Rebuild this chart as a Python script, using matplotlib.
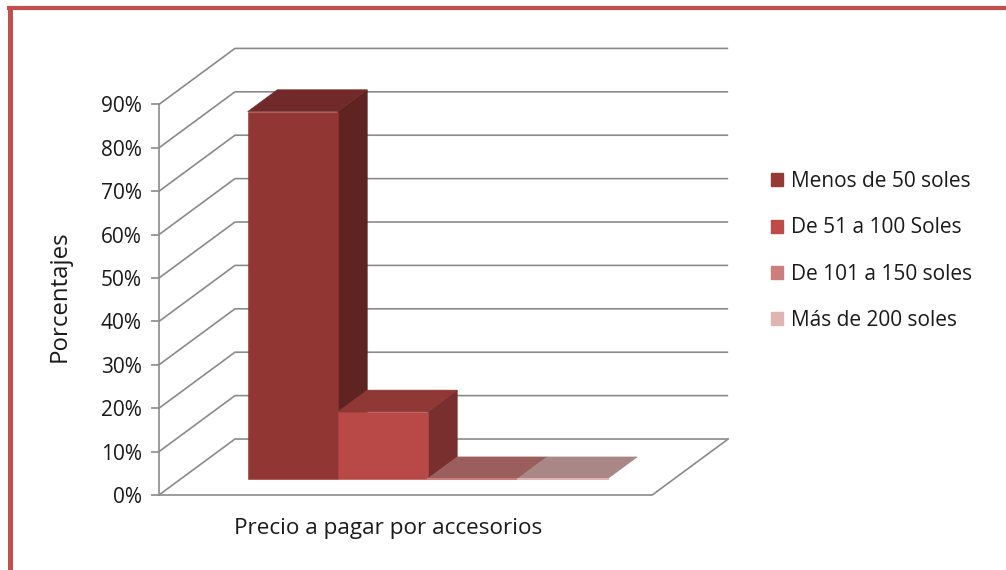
import matplotlib
matplotlib.use("Agg")
import matplotlib.pyplot as plt
from matplotlib.patches import Polygon, Patch
from matplotlib.lines import Line2D

# ---- data -------------------------------------------------------------
category = "Precio a pagar por accesorios"
series_names = ["Menos de 50 soles", "De 51 a 100 Soles",
                "De 101 a 150 soles", "Más de 200 soles"]
values = [84.6, 15.4, 0.0, 0.0]          # percent
y_ticks = [0, 10, 20, 30, 40, 50, 60, 70, 80, 90]
y_label = "Porcentajes"

# ---- style ------------------------------------------------------------
series_colors = ["#963836", "#BE4B48", "#CD7D7B", "#E1B4B4"]
FRONT_SHADE, TOP_SHADE, SIDE_SHADE = 0.97, 0.75, 0.63
GRID = "#8a8a8a"
FRAME = "#C0504D"
TEXT = "#1a1a1a"
FONT = "Open Sans"
TICK_FS, LEG_FS, CAT_FS, YLAB_FS = 15.0, 15.0, 16.2, 17.3

# oblique "3-D" geometry, in data units (x: bar widths, y: percent)
FLOOR_W = 5.48          # width of the floor
GAP = 0.74              # space before the first bar
BAR_W = 1.0
DEPTH_DX = 0.844        # x shift for full depth
DEPTH_DY = 12.9         # y shift for full depth
BAR_D0, BAR_D1 = 0.29, 0.68

plt.rcParams["font.family"] = [FONT, "DejaVu Sans"]

W_PX, H_PX = 1006, 570
fig = plt.figure(figsize=(W_PX / 100, H_PX / 100), dpi=100)
ax = fig.add_axes([0, 0, 1, 1])

# scale: 90 px per bar width, 4.34 px per percent; origin of the floor
PX_X, PX_Y = 90.0, 4.34
ORIG_X, ORIG_Y = 159.0, 495.0
ax.set_xlim(-ORIG_X / PX_X, (W_PX - ORIG_X) / PX_X)
ax.set_ylim((ORIG_Y - H_PX) / PX_Y, ORIG_Y / PX_Y)


def P(x, y, d):
    """Oblique projection of (x, value, depth) into the axes data plane."""
    return (x + d * DEPTH_DX, y + d * DEPTH_DY)


def shade(hexcol, f):
    r, g, b = matplotlib.colors.to_rgb(hexcol)
    return (r * f, g * f, b * f)


# ---- walls and floor --------------------------------------------------
for v in y_ticks:
    pts = [P(0, v, 0), P(0, v, 1), P(FLOOR_W, v, 1)]
    ax.add_line(Line2D([p[0] for p in pts], [p[1] for p in pts],
                       color=GRID, lw=1.2, zorder=1, solid_capstyle="butt"))
floor = [P(0, 0, 0), P(FLOOR_W, 0, 0), P(FLOOR_W, 0, 1)]
ax.add_line(Line2D([p[0] for p in floor], [p[1] for p in floor],
                   color=GRID, lw=1.2, zorder=1))


# ---- bars -------------------------------------------------------------
def bar3d(x0, h, col, z):
    x1 = x0 + BAR_W
    front = [P(x0, 0, BAR_D0), P(x1, 0, BAR_D0), P(x1, h, BAR_D0), P(x0, h, BAR_D0)]
    top = [P(x0, h, BAR_D0), P(x1, h, BAR_D0), P(x1, h, BAR_D1), P(x0, h, BAR_D1)]
    side = [P(x1, 0, BAR_D0), P(x1, 0, BAR_D1), P(x1, h, BAR_D1), P(x1, h, BAR_D0)]
    if h > 0:
        c = shade(col, SIDE_SHADE)
        ax.add_patch(Polygon(side, closed=True, fc=c, ec=c, lw=0.4, zorder=z))
    c = shade(col, TOP_SHADE)
    ax.add_patch(Polygon(top, closed=True, fc=c, ec=c, lw=0.4, zorder=z))
    if h > 0:
        c = shade(col, FRONT_SHADE)
        ax.add_patch(Polygon(front, closed=True, fc=c, ec=c, lw=0.4, zorder=z))
    else:
        ax.add_line(Line2D([front[0][0], front[1][0]], [front[0][1], front[1][1]],
                           color=col, lw=1.4, zorder=z))


for i, (val, col) in enumerate(zip(values, series_colors)):
    bar3d(GAP + i * BAR_W, val, col, 3 + i)

# ---- axes -------------------------------------------------------------
for s in ("top", "right", "bottom"):
    ax.spines[s].set_visible(False)
ax.spines["left"].set_position(("data", 0))
ax.spines["left"].set_bounds(0, y_ticks[-1])
ax.spines["left"].set_color(GRID)
ax.spines["left"].set_linewidth(1.2)
ax.spines["left"].set_zorder(2)
ax.set_yticks(y_ticks)
ax.set_yticklabels([f"{v}%" for v in y_ticks])
ax.tick_params(axis="y", direction="out", length=5.5, width=1.2, color=GRID,
               pad=7, labelsize=TICK_FS, labelcolor=TEXT)
ax.set_xticks([])
ax.patch.set_visible(False)

ax.text(-1.1, 45.9, y_label, rotation=90, ha="center", va="center",
        fontsize=YLAB_FS, color=TEXT)
ax.text(2.544, -7.8, category, ha="center", va="center",
        fontsize=CAT_FS, color=TEXT)

handles = [Patch(facecolor=c, edgecolor=c) for c in series_colors]
fig.legend(handles, series_names, loc="center left",
           bbox_to_anchor=(752 / W_PX, 1 - 251 / H_PX), frameon=False,
           fontsize=LEG_FS, labelspacing=1.21, handlelength=0.58,
           handleheight=0.58, handletextpad=0.38, labelcolor=TEXT)

# ---- outer frame (top and left edges) ----------------------------------
fig.add_artist(Line2D([7 / W_PX, 1.0], [1 - 8 / H_PX, 1 - 8 / H_PX],
                      transform=fig.transFigure, color=FRAME, lw=3.0,
                      solid_capstyle="butt"))
fig.add_artist(Line2D([9.8 / W_PX, 9.8 / W_PX], [1 - 6 / H_PX, 0.0],
                      transform=fig.transFigure, color=FRAME, lw=3.6,
                      solid_capstyle="butt"))

fig.savefig("out.png", dpi=100, facecolor="white")
